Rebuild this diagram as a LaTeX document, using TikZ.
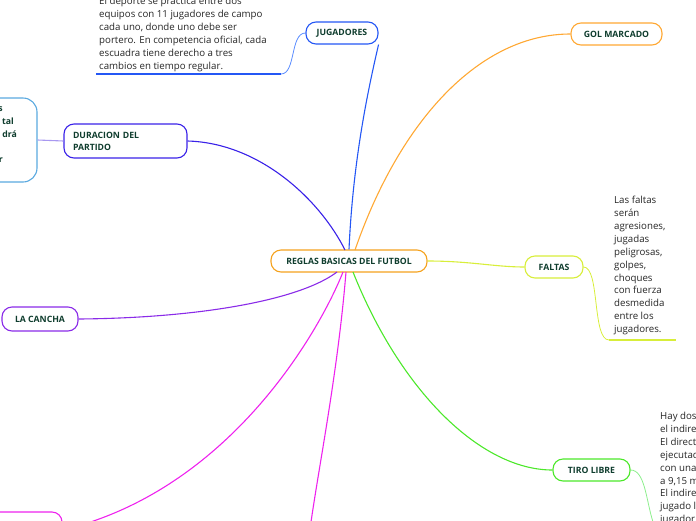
\documentclass[tikz,border=0pt]{standalone}
\usepackage{fontspec}
\setmainfont{Open Sans}
\definecolor{txtgreen}{HTML}{0F3D2E}
\definecolor{cOrange}{HTML}{F5A21E}
\definecolor{cGol}{HTML}{FFA833}
\definecolor{cBlue}{HTML}{2457F5}
\definecolor{cBlueLight}{HTML}{5A8CFF}
\definecolor{cViolet}{HTML}{3A22E8}
\definecolor{cSky}{HTML}{5AA9E0}
\definecolor{cLav}{HTML}{A898F0}
\definecolor{cPurple}{HTML}{8A2BE8}
\definecolor{cMagenta}{HTML}{EE22EE}
\definecolor{cLime}{HTML}{D8EE3A}
\definecolor{cGreen}{HTML}{4CE82A}
\definecolor{cGreenLight}{HTML}{8CEE8C}
\definecolor{bodytext}{HTML}{262626}
\tikzset{
  topic/.style={draw, rounded corners=10pt, line width=1.1pt, fill=white,
    font=\fontsize{8.7}{12}\selectfont\bfseries, text=txtgreen, inner sep=0pt, align=left},
  frag/.style={font=\fontsize{8.7}{12}\selectfont\bfseries, text=txtgreen, anchor=base east, inner sep=0pt},
  conn/.style={line width=1.1pt},
  body/.style={font=\fontsize{9.7}{12.9}\selectfont, text=bodytext, inner sep=0pt, align=left, anchor=north west}
}
\begin{document}
\begin{tikzpicture}[x=1pt,y=-1pt]
\useasboundingbox (0,0) rectangle (696,520);
\clip (0,0) rectangle (696,520);
% main connectors (drawn first so boxes sit on top)
\coordinate (m2end) at (311,522);
% nodes
\node[topic, draw=cOrange, minimum width=156pt, minimum height=22pt] (root) at (349,261) {REGLAS BASICAS DEL FUTBOL};
\node[topic, draw=cBlue, minimum width=72pt, minimum height=22pt] (jug) at (342,33) {JUGADORES};
\node[topic, draw=cGol, minimum width=91pt, minimum height=22pt] (gol) at (616.5,34) {GOL MARCADO};
\node[topic, draw=cViolet, minimum width=123pt, minimum height=34pt, text width=105pt] (dur) at (125.5,141) {DURACION DEL\\PARTIDO};
\node[topic, draw=cSky, minimum width=80pt, minimum height=84pt, rounded corners=14pt] (left) at (-3,140) {};
\node[topic, draw=cPurple, minimum width=76pt, minimum height=24pt] (can) at (40,319) {LA CANCHA};
\node[topic, draw=cMagenta, minimum width=100pt, minimum height=36pt] (prop) at (12,530) {};
\node[topic, draw=cLime, minimum width=58pt, minimum height=22pt] (fal) at (554,267) {FALTAS};
\node[topic, draw=cGreen, minimum width=77pt, minimum height=22pt] (tiro) at (591.5,470) {TIRO LIBRE};
% left box text fragments
\node[frag] (l1) at (3,111) {s};
\node[frag] (l2) at (14,124) {tal};
\node[frag] (l3) at (17,137) {drá};
\node[frag] (l4) at (3,162) {r};
% body texts
\node[body] (jtxt) at (99,-3) {El deporte se practica entre dos\\equipos con 11 jugadores de campo\\cada uno, donde uno debe ser\\portero. En competencia oficial, cada\\escuadra tiene derecho a tres\\cambios en tiempo regular.};
\node[body] (ftxt) at (614,196) {Las faltas\\serán\\agresiones,\\jugadas\\peligrosas,\\golpes,\\choques\\con fuerza\\desmedida\\entre los\\jugadores.};
\node[body] (ttxt) at (660,412) {Hay dos tipos de tiro libre:\\el indirecto y el directo.\\El directo puede ser\\ejecutado directamente\\con una barrera\\a 9,15 metros.\\El indirecto debe ser\\jugado luego por otro\\jugador.};
% detail coordinates
\coordinate (jund) at (96,74);
\coordinate (jcor) at (281,74);
\coordinate (fcor) at (609,340);
\coordinate (fend) at (676,340);
\coordinate (tend) at (653,522);
% main connectors
\draw[conn, cBlue] (root.north) .. controls (353,160) and (368,90) .. (jug.south east);
\draw[conn, cGol] (355,250) .. controls (400,120) and (480,34) .. (gol.west);
\draw[conn, cViolet] (dur.east) .. controls (260,143) and (320,200) .. (345,250);
\draw[conn, cPurple] (can.east) .. controls (200,318) and (300,300) .. (337,272);
\draw[conn, cMagenta] (prop.east) .. controls (230,490) and (320,330) .. (343,272);
\draw[conn, cMagenta] (346,272) .. controls (338,370) and (320,460) .. (m2end);
\draw[conn, cLime] (root.east) .. controls (470,261) and (495,267) .. (fal.west);
\draw[conn, cGreen] (353,272) .. controls (400,390) and (480,470) .. (tiro.west);
\draw[conn, cLav] (left.east) -- (dur.west);
% detail connectors
\draw[conn, cBlueLight, line width=0.8pt] (jug.west) .. controls (290,33) and (296,74) .. (jcor);
\draw[conn, cBlue] (jcor) -- (jund);
\draw[conn, cLime, line width=0.8pt] (fal.east) .. controls (600,267) and (592,340) .. (fcor);
\draw[conn, cLime] (fcor) -- (fend);
\draw[conn, cGreenLight, line width=0.8pt] (tiro.east) .. controls (645,470) and (646,500) .. (tend);
\end{tikzpicture}
\end{document}
